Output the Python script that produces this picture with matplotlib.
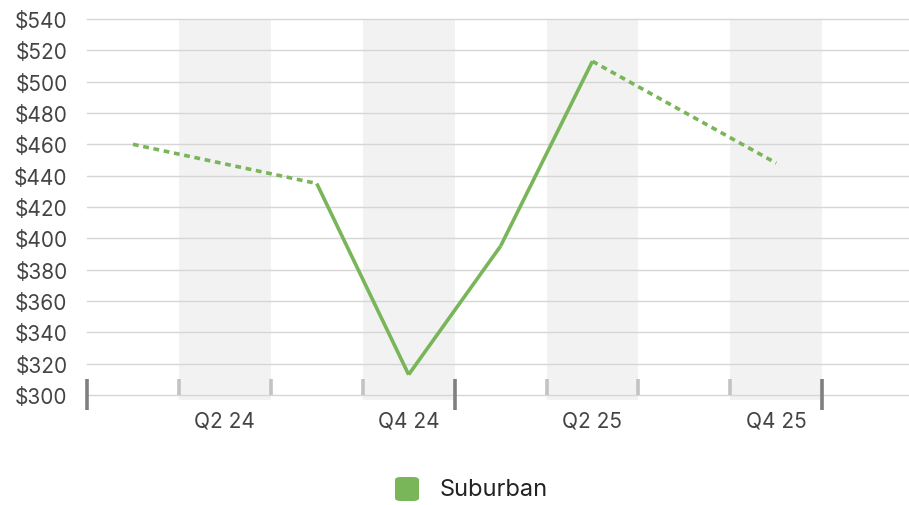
import matplotlib
matplotlib.use("Agg")
import matplotlib.pyplot as plt
import matplotlib.transforms as mtransforms
from matplotlib.patches import FancyBboxPatch

# ----------------------------------------------------------------------------------------------------------------------
#  DATA
# ----------------------------------------------------------------------------------------------------------------------
quarters     = ['Q1 24', 'Q2 24', 'Q3 24', 'Q4 24', 'Q1 25', 'Q2 25', 'Q3 25', 'Q4 25']
suburban     = [460, None, 435, 313, 395, 513, None, 448]
tick_labels  = ['Q2 24', 'Q4 24', 'Q2 25', 'Q4 25']
y_ticks      = list(range(300, 541, 20))
series_name  = 'Suburban'

# ----------------------------------------------------------------------------------------------------------------------
#  STYLE
# ----------------------------------------------------------------------------------------------------------------------
plt.rcParams['font.family'] = ['Inter', 'DejaVu Sans']
line_color = '#79b559'
band_color = '#f2f2f2'
grid_color = '#d6d6d6'
text_color = '#444444'

W, H = 909, 506
fig = plt.figure(figsize=(W / 100, H / 100), dpi=100)
ax = fig.add_axes([87 / W, 1 - 396 / H, 1 - 87 / W, (396 - 20) / H])

ax.set_xlim(-0.5, -0.5 + (W - 87) / 91.9)
ax.set_ylim(300, 540)

# shaded bands for every second quarter
for i, q in enumerate(quarters):
    if q in tick_labels:
        ax.axvspan(i - 0.5, i + 0.5, ymin=-0.014, ymax=1, color=band_color, zorder=0,
                   lw=0, clip_on=False)

# horizontal grid
for yv in y_ticks:
    ax.axhline(yv, color=grid_color, lw=1.0, zorder=1, clip_on=False)

# solid segments between neighbours, dotted across gaps
valid = [(i, v) for i, v in enumerate(suburban) if v is not None]
for (i0, v0), (i1, v1) in zip(valid[:-1], valid[1:]):
    ls = '-' if i1 - i0 == 1 else (0, (1.6, 1.3))
    ax.plot([i0, i1], [v0, v1], color=line_color, lw=2.6, ls=ls,
            solid_capstyle='butt', dash_capstyle='butt', zorder=3)

# y axis labels
ax.set_yticks(y_ticks)
ax.set_yticklabels([f'${v}' for v in y_ticks], fontsize=15, color=text_color)
ax.tick_params(axis='y', length=0, pad=14)

# x axis labels
ax.set_xticks([quarters.index(t) for t in tick_labels])
ax.set_xticklabels(tick_labels, fontsize=15, color=text_color)
ax.tick_params(axis='x', length=0, pad=11)

for s in ax.spines.values():
    s.set_visible(False)

# custom tick marks at quarter boundaries
trans = mtransforms.blended_transform_factory(ax.transData, ax.transAxes)
px = 1 / (396 - 20)
for b in range(len(quarters) + 1):
    xb = b - 0.5
    if b % 4 == 0:
        ax.plot([xb, xb], [-15 * px, 16 * px], color='#7f7f7f', lw=2.6, transform=trans,
                clip_on=False, solid_capstyle='butt', zorder=4)
    else:
        ax.plot([xb, xb], [0, 16 * px], color='#c3c3c3', lw=2.6, transform=trans,
                clip_on=False, solid_capstyle='butt', zorder=4)

# legend
fig.patches.append(FancyBboxPatch((395 / W, 1 - 502 / H), 24 / W, 24 / H,
                                  boxstyle='round,pad=0,rounding_size=0.006',
                                  transform=fig.transFigure, fc=line_color, ec='none'))
fig.text(440 / W, 1 - 490 / H, series_name, fontsize=17, color='#222222', va='center', ha='left')

fig.savefig('out.png', dpi=100)
